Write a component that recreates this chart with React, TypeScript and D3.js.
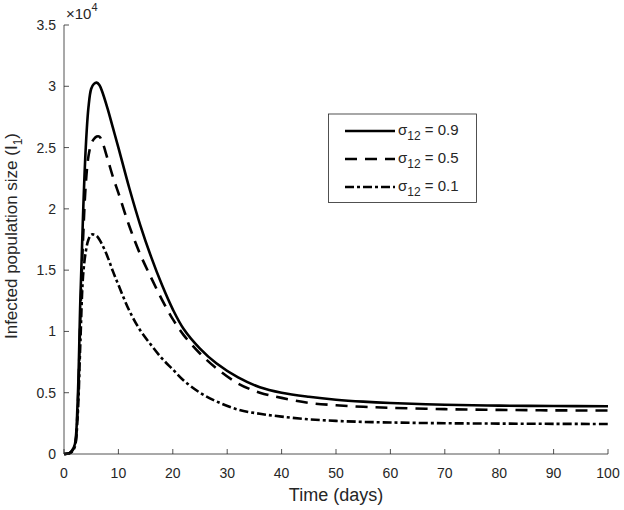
import React from 'react';
import * as d3 from 'd3';

// time grid (days) and infected population I1 in units of 1e4
const days = [0, 0.5, 1, 1.5, 2, 2.5, 3, 3.5, 4, 4.5, 5, 5.5, 6, 6.5, 7, 8, 9, 10, 12, 14, 16, 18, 20, 22, 25, 28, 32, 36, 40, 45, 50, 55, 60, 70, 80, 90, 100];

const sigma09 = [0, 0.002, 0.008, 0.03, 0.08, 0.42, 1.25, 1.95, 2.5, 2.83, 2.98, 3.02, 3.03, 3.01, 2.96, 2.82, 2.66, 2.5, 2.17, 1.87, 1.61, 1.38, 1.18, 1.02, 0.86, 0.74, 0.625, 0.545, 0.5, 0.467, 0.443, 0.427, 0.416, 0.402, 0.395, 0.391, 0.39];
const sigma05 = [0, 0.002, 0.007, 0.025, 0.07, 0.36, 1.1, 1.75, 2.2, 2.43, 2.53, 2.57, 2.59, 2.59, 2.55, 2.41, 2.26, 2.13, 1.86, 1.63, 1.44, 1.26, 1.1, 0.97, 0.82, 0.7, 0.575, 0.5, 0.458, 0.417, 0.398, 0.385, 0.377, 0.366, 0.36, 0.356, 0.355];
const sigma01 = [0, 0.002, 0.006, 0.02, 0.06, 0.3, 0.9, 1.45, 1.65, 1.75, 1.79, 1.79, 1.78, 1.75, 1.71, 1.61, 1.49, 1.38, 1.17, 1.01, 0.89, 0.78, 0.69, 0.6, 0.5, 0.43, 0.362, 0.328, 0.305, 0.283, 0.27, 0.262, 0.257, 0.251, 0.248, 0.246, 0.245];

const sigmaLabels = ['0.9', '0.5', '0.1'];
const xTicks = [0, 10, 20, 30, 40, 50, 60, 70, 80, 90, 100];
const yTicks = [0, 0.5, 1, 1.5, 2, 2.5, 3, 3.5];

const W = 624;
const H = 510;
const margin = { top: 25, right: 16, bottom: 56, left: 64 };
const FONT = '"Liberation Sans", Arial, Helvetica, sans-serif';
const AXIS = '#262626';

const x = d3.scaleLinear().domain([0, 100]).range([margin.left, W - margin.right]);
const y = d3.scaleLinear().domain([0, 3.5]).range([H - margin.bottom, margin.top]);

const line = d3
  .line<[number, number]>()
  .x(d => x(d[0]))
  .y(d => Math.min(y(d[1]), y(0)))
  .curve(d3.curveCatmullRom.alpha(0.5));

const seriesList = [
  { values: sigma09, dash: undefined },
  { values: sigma05, dash: '12,8' },
  { values: sigma01, dash: '9,3,3,3' },
];

export default function App() {
  const x0 = x(0);
  const y0 = y(0);

  return (
    <svg
      width={W}
      height={H}
      style={{ position: 'absolute', left: 0, top: 0, display: 'block', background: '#fff' }}
      fontFamily={FONT}
    >
      {/* curves */}
      {seriesList.map((s, i) => (
        <path
          key={i}
          d={line(days.map((t, j) => [t, s.values[j]] as [number, number])) || ''}
          fill="none"
          stroke="#000"
          strokeWidth={2.6}
          strokeDasharray={s.dash}
          strokeLinejoin="round"
        />
      ))}

      {/* axes */}
      <line x1={x0} x2={x0} y1={y(3.5)} y2={y0} stroke={AXIS} strokeWidth={0.8} />
      <line x1={x0} x2={x(100)} y1={y0} y2={y0} stroke={AXIS} strokeWidth={0.8} />

      {xTicks.map(t => (
        <g key={'x' + t}>
          <line x1={x(t)} x2={x(t)} y1={y0} y2={y0 - 5} stroke={AXIS} strokeWidth={0.8} />
          <text x={x(t)} y={y0 + 24} textAnchor="middle" fontSize={14} fill={AXIS}>
            {t}
          </text>
        </g>
      ))}

      {yTicks.map(t => (
        <g key={'y' + t}>
          <line x1={x0} x2={x0 + 5} y1={y(t)} y2={y(t)} stroke={AXIS} strokeWidth={0.8} />
          <text x={x0 - 8} y={y(t) + 5} textAnchor="end" fontSize={14} fill={AXIS}>
            {t}
          </text>
        </g>
      ))}

      {/* exponent */}
      <text x={x0 + 2} y={19} fontSize={15} fill={AXIS}>
        ×10
        <tspan fontSize={11} dy={-8}>4</tspan>
      </text>

      {/* axis labels */}
      <text x={(x0 + x(100)) / 2} y={501} textAnchor="middle" fontSize={18} fill={AXIS}>
        Time (days)
      </text>
      <text
        transform="translate(17, 236) rotate(-90)"
        textAnchor="middle"
        fontSize={17}
        fill={AXIS}
      >
        Infected population size (I
        <tspan fontSize={12} dy={5}>1</tspan>
        <tspan dy={-5}>)</tspan>
      </text>

      {/* legend */}
      <g>
        <rect x={328.5} y={114} width={148} height={88.5} fill="#fff" stroke={AXIS} strokeWidth={0.8} />
        {seriesList.map((s, i) => {
          const ly = 131 + i * 28;
          return (
            <g key={'l' + i}>
              <line
                x1={345}
                x2={395}
                y1={ly}
                y2={ly}
                stroke="#000"
                strokeWidth={2.6}
                strokeDasharray={s.dash}
              />
              <text x={398} y={ly + 4} fontSize={15} fill={AXIS}>
                σ
                <tspan fontSize={12} dy={5}>12</tspan>
                <tspan dy={-5}> = {sigmaLabels[i]}</tspan>
              </text>
            </g>
          );
        })}
      </g>
    </svg>
  );
}
